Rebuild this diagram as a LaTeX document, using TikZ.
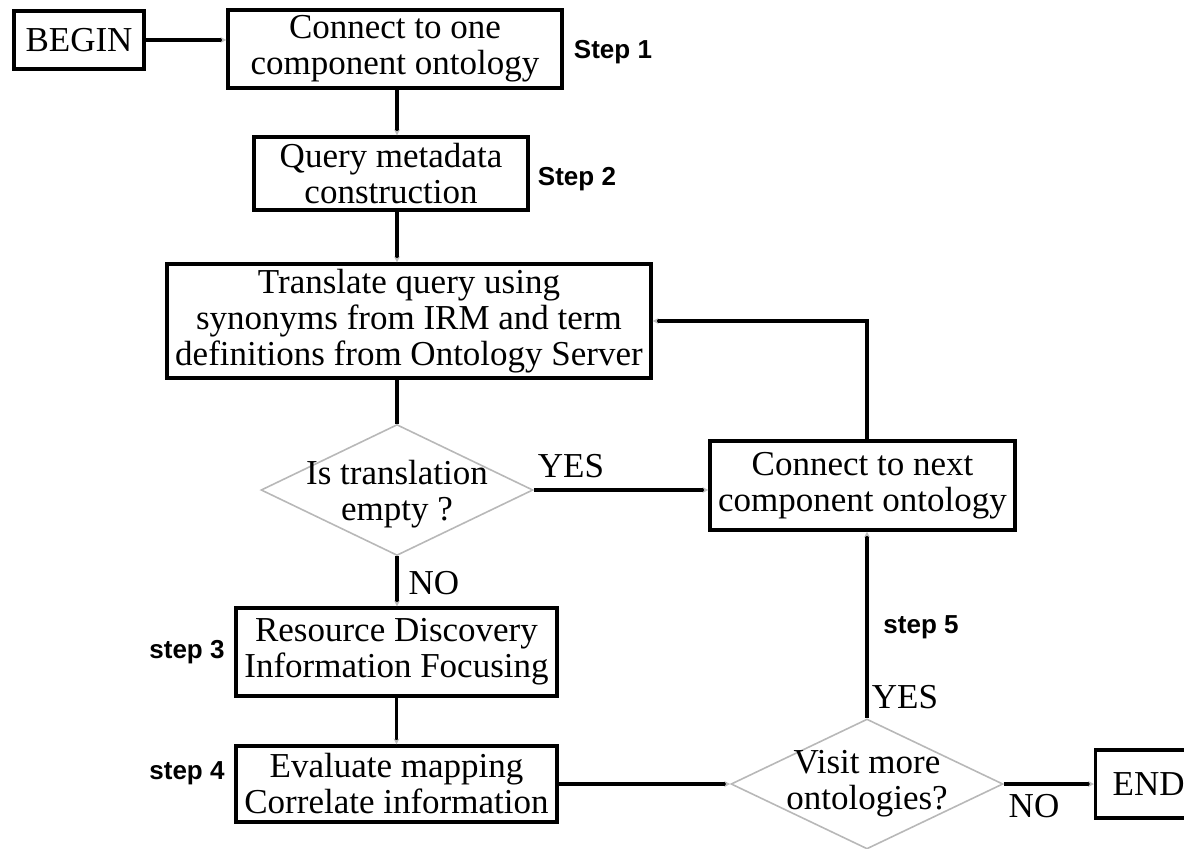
\documentclass[tikz,border=0pt]{standalone}
\usepackage{fontspec}
\setmainfont{Liberation Serif}
\newfontfamily\stepfont{Liberation Sans}
\usetikzlibrary{shapes.geometric,arrows.meta}
\begin{document}
\begin{tikzpicture}[x=1pt,y=-1pt,
  box/.style={draw, line width=3.2pt, inner sep=0pt, align=center, font=\fontsize{35}{36}\selectfont},
  dia/.style={draw=black!28, line width=1.6pt, diamond, inner sep=0pt},
  lbl/.style={font=\fontsize{35}{36}\selectfont, inner sep=0pt, align=center},
  steplbl/.style={font=\stepfont\bfseries\fontsize{26}{28}\selectfont, inner sep=0pt},
  conn/.style={line width=3.2pt},
  arr/.style={conn, -{Stealth[length=6pt,width=6pt,color=black!25]}},
]
\useasboundingbox (0,0) rectangle (1184,849);
\clip (0,0) rectangle (1184,849);

\node[box, minimum width=130, minimum height=58] (begin) at (79,40) {BEGIN};
\node[box, minimum width=334, minimum height=78] (box1) at (395,49) {Connect to one\\component ontology};
\node[box, minimum width=274, minimum height=73] (box2) at (391,173.5) {Query metadata\\construction};
\node[box, minimum width=484, minimum height=114] (box3) at (409,321) {Translate query using\\synonyms from IRM and term\\definitions from Ontology Server};
\node[dia, minimum width=272, minimum height=131] (d1) at (397,490) {};
\node[lbl] (d1t) at (397,494) {Is translation\\empty ?};
\node[box, minimum width=305, minimum height=89] (box4) at (862.5,485.5) {Connect to next\\component ontology};
\node[box, minimum width=321, minimum height=88] (box5) at (396.5,652) {Resource Discovery\\Information Focusing};
\node[box, minimum width=321, minimum height=76] (box6) at (396.5,784) {Evaluate mapping\\Correlate information};
\node[dia, minimum width=272, minimum height=130] (d2) at (867,784) {};
\node[lbl] (d2t) at (867,784) {Visit more\\ontologies?};
\node[box, minimum width=106, minimum height=68, anchor=west] (endn) at (1094,784) {END};

\node[steplbl] (s1) at (613,52) {Step 1};
\node[steplbl] (s2) at (577,179) {Step 2};
\node[steplbl] (s3) at (187,652) {step 3};
\node[steplbl] (s4) at (187,773) {step 4};
\node[steplbl] (s5) at (921,627) {step 5};

\node[lbl] (yes1) at (571,466) {YES};
\node[lbl] (no1) at (434,583) {NO};
\node[lbl] (yes2) at (905,697) {YES};
\node[lbl] (no2) at (1034,806) {NO};

\draw[arr] (begin.east) -- (begin.east -| box1.west);
\draw[arr] (box1.south -| d1.north) -- (box2.north -| d1.north);
\draw[arr] (box2.south -| d1.north) -- (box3.north -| d1.north);
\draw[conn] (box3.south -| d1.north) -- (d1.north);
\draw[arr] (d1.south) -- (box5.north -| d1.south);
\draw[arr] (box5.south) -- (box6.north);
\draw[arr] (box6.east) -- (d2.west);
\draw[arr] (d2.east) -- (endn.west);
\draw[arr] (d2.north) -- (d2.north |- box4.south);
\draw[arr] (d1.east) -- (d1.east -| box4.west);
\draw[arr] (d2.north |- box4.north) |- (box3.east);
\end{tikzpicture}
\end{document}
